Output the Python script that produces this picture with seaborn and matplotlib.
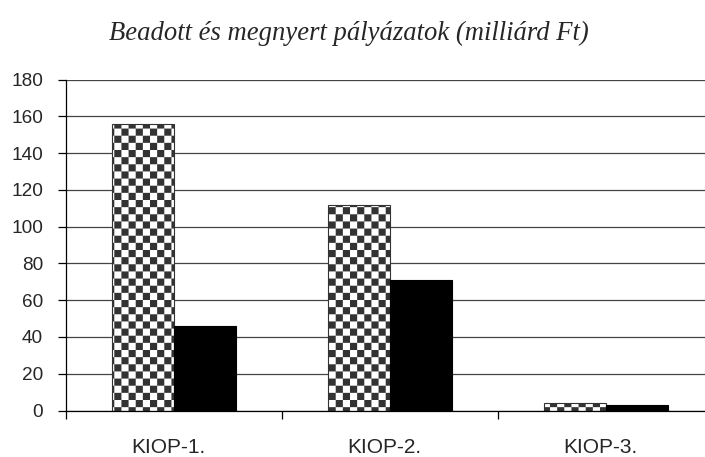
import numpy as np
import pandas as pd
import matplotlib
matplotlib.use("Agg")
import matplotlib.pyplot as plt
import matplotlib.hatch as mhatch
from matplotlib.path import Path
from matplotlib.transforms import ScaledTranslation
import seaborn as sns

# ---- data ----
categories = ["KIOP-1.", "KIOP-2.", "KIOP-3."]
beadott = [156, 112, 4]
megnyert = [46, 71, 3]
series_names = ["Beadott", "Megnyert"]
yticks = [0, 20, 40, 60, 80, 100, 120, 140, 160, 180]
title = "Beadott és megnyert pályázatok (milliárd Ft)"


# ---- custom checkerboard hatch (replaces '*') ----
class CheckerHatch(mhatch.HatchPatternBase):
    def __init__(self, hatch, density):
        self.n = 7 if "*" in hatch else 0
        self.num_vertices = 2 * self.n * self.n * 5

    def set_vertices_and_codes(self, vertices, codes):
        m = 2 * self.n
        s = 1.0 / m
        sq = np.array([[0, 0], [1, 0], [1, 1], [0, 1], [0, 0]], float) * s
        sc = [Path.MOVETO, Path.LINETO, Path.LINETO, Path.LINETO, Path.CLOSEPOLY]
        vs, cs = [], []
        for r in range(m):
            for c in range(m):
                if (r + c) % 2 == 0:
                    vs.append(sq + [c * s, r * s])
                    cs.extend(sc)
        vertices[:] = np.concatenate(vs)
        codes[:] = cs


mhatch._hatch_types[:] = [t for t in mhatch._hatch_types if t is not mhatch.Stars] + [CheckerHatch]

sns.set_style("white")
plt.rcParams["font.family"] = ["Liberation Sans", "DejaVu Sans"]
plt.rcParams["hatch.linewidth"] = 0.01
plt.rcParams["hatch.color"] = "black"

df = pd.DataFrame({
    "cat": categories * 2,
    "val": beadott + megnyert,
    "series": [series_names[0]] * 3 + [series_names[1]] * 3,
})

W, H = 705, 457
fig = plt.figure(figsize=(W / 100, H / 100), dpi=100)
left, right, bottom, top = 66, 714, 46.5, 377.3
ax = fig.add_axes([left / W, bottom / H, (right - left) / W, (top - bottom) / H])

sns.barplot(data=df, x="cat", y="val", hue="series", palette=["white", "black"],
            width=0.575, saturation=1, edgecolor="black", linewidth=0.8,
            legend=False, ax=ax, gap=0)

for p in ax.containers[0]:
    p.set_hatch("*")
    p.set_edgecolor("#333333")

ax.set_xlim(-0.5, 2.5)
ax.set_ylim(0, 180)
ax.set_yticks(yticks)
ax.set_yticklabels([str(v) for v in yticks])
ax.set_xlabel("")
ax.set_ylabel("")
ax.yaxis.grid(True, color="#444444", linewidth=0.9)
ax.set_axisbelow(True)
for side in ["top", "right"]:
    ax.spines[side].set_visible(False)
ax.spines["left"].set_color("black")
ax.spines["bottom"].set_color("black")
ax.spines["left"].set_linewidth(0.9)
ax.spines["bottom"].set_linewidth(0.9)

ax.tick_params(axis="y", which="major", direction="out", length=5.8, width=0.9,
               color="black", labelsize=13.7, pad=10.6, left=True)
ax.set_xticks([-0.5, 0.5, 1.5, 2.5], minor=True)
ax.tick_params(axis="x", which="minor", direction="out", length=5.5, width=0.9,
               color="black", bottom=True)
ax.tick_params(axis="x", which="major", length=0, labelsize=15, pad=19.5)
shift = ScaledTranslation(-6 / 100, 0, fig.dpi_scale_trans)
for lbl in ax.get_xticklabels():
    lbl.set_transform(lbl.get_transform() + shift)

fig.text(349 / W, 1 - 40 / H, title, ha="center", va="baseline",
         fontsize=19.2, fontstyle="italic", family=["Liberation Serif", "DejaVu Serif"])

fig.savefig("out.png", dpi=100)
